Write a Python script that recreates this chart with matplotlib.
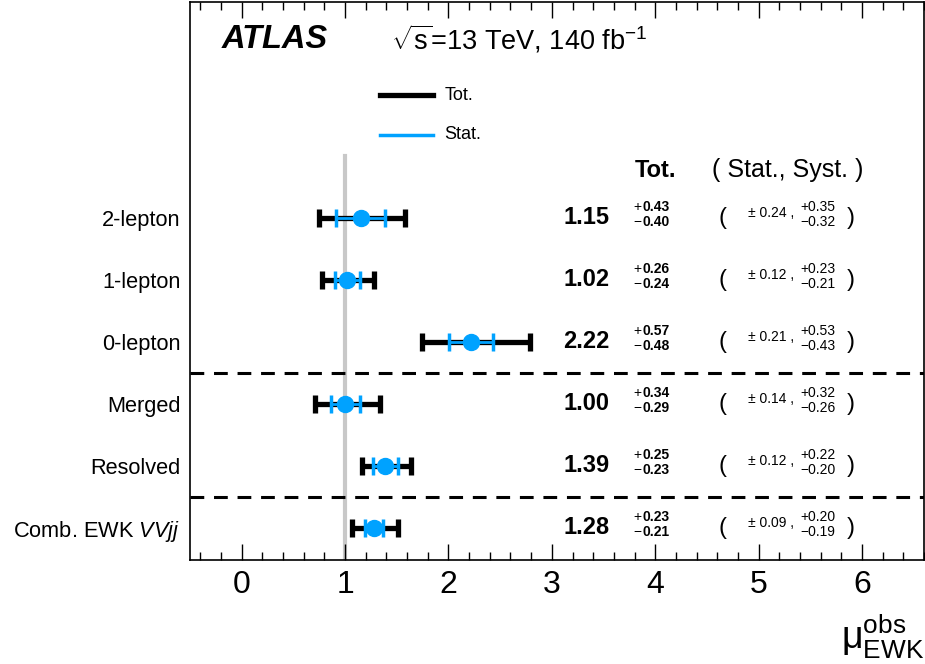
import matplotlib
matplotlib.use("Agg")
import matplotlib.pyplot as plt
from matplotlib.ticker import MultipleLocator

plt.rcParams['font.family'] = ['Liberation Sans', 'DejaVu Sans']
plt.rcParams['mathtext.fontset'] = 'custom'
plt.rcParams['mathtext.rm'] = 'Liberation Sans'
plt.rcParams['mathtext.it'] = 'Liberation Sans:italic'
plt.rcParams['mathtext.bf'] = 'Liberation Sans:bold'

labels = ["2-lepton", "1-lepton", "0-lepton", "Merged", "Resolved",
          r"Comb. EWK $\mathit{VVjj}$"]
ypos = [6, 5, 4, 3, 2, 1]
mu = [1.15, 1.02, 2.22, 1.00, 1.39, 1.28]
tot_up = [0.43, 0.26, 0.57, 0.34, 0.25, 0.23]
tot_dn = [0.40, 0.24, 0.48, 0.29, 0.23, 0.21]
stat = [0.24, 0.12, 0.21, 0.14, 0.12, 0.09]
syst_up = [0.35, 0.23, 0.53, 0.32, 0.22, 0.20]
syst_dn = [0.32, 0.21, 0.43, 0.26, 0.20, 0.19]
separators = [3.5, 1.5]

BLUE = '#00a2ff'

fig = plt.figure(figsize=(9.25, 6.64), dpi=100)
ax = fig.add_axes([190/925, 1-560/664, 734/925, 558/664])
ax.set_xlim(-0.5, 6.6)
ax.set_ylim(0.48, 9.48)

# reference line
ax.plot([1, 1], [0.48, 7.0], color='#c8c8c8', lw=3, zorder=1)

for s in separators:
    ax.axhline(s, color='black', lw=2.2, ls=(0, (4.5, 3.2)), zorder=1)

for i in range(len(mu)):
    ax.errorbar(mu[i], ypos[i], xerr=[[tot_dn[i]], [tot_up[i]]], fmt='none',
                ecolor='black', elinewidth=3.8, capsize=6.5, capthick=3.8, zorder=2)
    ax.errorbar(mu[i], ypos[i], xerr=[[stat[i]], [stat[i]]], fmt='none',
                ecolor=BLUE, elinewidth=2.0, capsize=6.5, capthick=2.5, zorder=3)
    ax.plot(mu[i], ypos[i], 'o', color=BLUE, ms=11.5, mec=BLUE, zorder=4)

    y = ypos[i]
    yu = y + 0.05 + 0.12
    yd = y + 0.05 - 0.12
    ax.text(3.56, y, f"{mu[i]:.2f}", ha='right', va='center', fontsize=17,
            fontweight='bold')
    ax.text(3.79, yu, "+", ha='left', va='center', fontsize=10)
    ax.text(3.875, yu, f"{tot_up[i]:.2f}", ha='left', va='center',
            fontsize=10, fontweight='bold')
    ax.text(3.79, yd, "\u2212", ha='left', va='center', fontsize=10)
    ax.text(3.875, yd, f"{tot_dn[i]:.2f}", ha='left', va='center',
            fontsize=10, fontweight='bold')
    ax.text(4.65, y, "(", ha='center', va='center', fontsize=17)
    ax.text(4.90, y + 0.07, f"\u00b1 {stat[i]:.2f} ,", ha='left', va='center',
            fontsize=10)
    ax.text(5.40, yu, f"+{syst_up[i]:.2f}", ha='left', va='center', fontsize=10)
    ax.text(5.40, yd, f"\u2212{syst_dn[i]:.2f}", ha='left', va='center', fontsize=10)
    ax.text(5.89, y, ")", ha='center', va='center', fontsize=17)

ax.text(4.0, 6.77, "Tot.", ha='center', va='center', fontsize=17, fontweight='bold')
ax.text(5.28, 6.77, "( Stat., Syst. )", ha='center', va='center', fontsize=18)

ax.text(-0.19, 8.88, "ATLAS", ha='left', va='center', fontsize=23.5,
        fontweight='bold', fontstyle='italic')
ax.text(1.44, 8.88, r"$\sqrt{\mathrm{s}}$=13 TeV, 140 fb$^{\mathrm{-1}}$", ha='left',
        va='center', fontsize=19.5)

# legend
ax.plot([0.259, 0.331], [0.833, 0.833], transform=ax.transAxes, color='black', lw=3.8)
ax.plot([0.259, 0.331], [0.762, 0.762], transform=ax.transAxes, color=BLUE, lw=2.5)
ax.text(0.347, 0.833, "Tot.", transform=ax.transAxes, ha='left', va='center', fontsize=13)
ax.text(0.347, 0.762, "Stat.", transform=ax.transAxes, ha='left', va='center', fontsize=13)

ax.set_yticks(ypos)
ax.set_yticklabels(labels, fontsize=15.7)
ax.tick_params(axis='y', length=0, pad=7)

ax.xaxis.set_major_locator(MultipleLocator(1))
ax.xaxis.set_minor_locator(MultipleLocator(0.2))
ax.tick_params(axis='x', which='major', direction='in', length=11.5, width=1,
               top=True, labelsize=23, pad=7)
ax.tick_params(axis='x', which='minor', direction='in', length=6, width=1, top=True)
for sp in ax.spines.values():
    sp.set_linewidth(1.2)

fig.text(924/925, 0.005, r"$\mathrm{μ}^{\mathrm{obs}}_{\mathrm{EWK}}$", ha='right',
         va='bottom', fontsize=27)

fig.savefig("out.png", dpi=100)
